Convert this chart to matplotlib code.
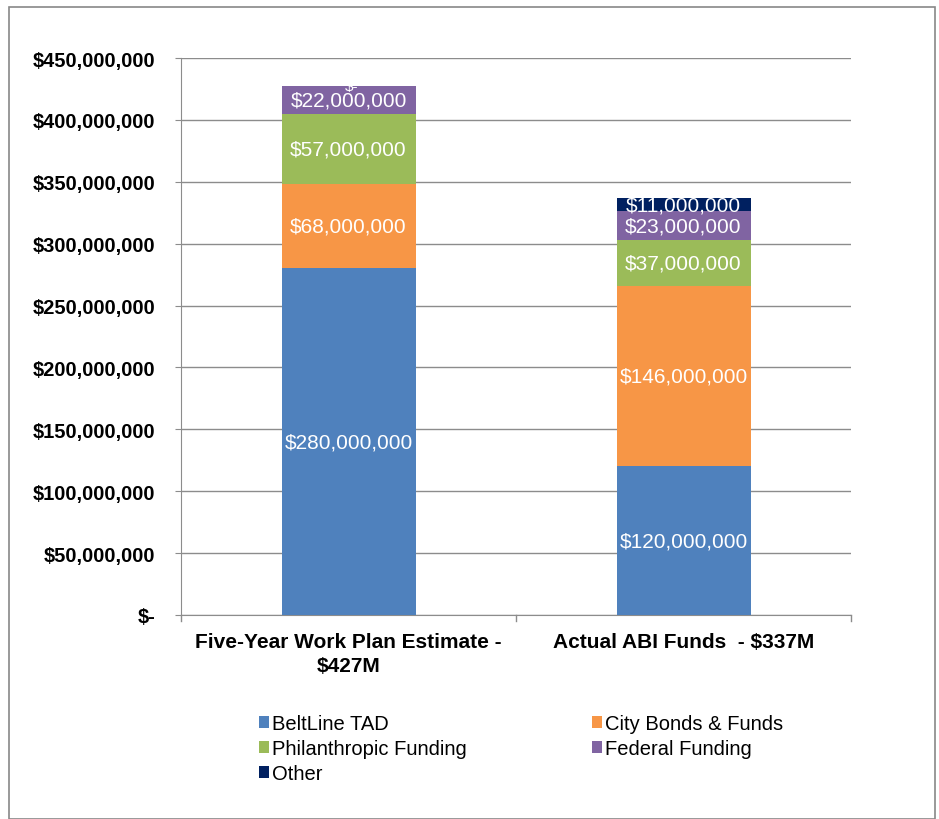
import numpy as np
import matplotlib.pyplot as plt
from matplotlib.patches import Rectangle
from matplotlib.ticker import FuncFormatter

plt.rcParams['font.family'] = ['Liberation Sans', 'DejaVu Sans']

categories = ["Five-Year Work Plan Estimate -\n$427M", "Actual ABI Funds  - $337M"]
series = ["BeltLine TAD", "City Bonds & Funds", "Philanthropic Funding", "Federal Funding", "Other"]
beltline_tad = [280000000, 120000000]
city_bonds = [68000000, 146000000]
philanthropic = [57000000, 37000000]
federal = [22000000, 23000000]
other = [0, 11000000]
colors = ["#4F81BD", "#F79646", "#9BBB59", "#8064A2", "#002060"]

fig = plt.figure(figsize=(9.39, 8.20), dpi=100)
# outer chart border
fig.patches.append(Rectangle((9 / 939, 0), 926 / 939, 1 - 8 / 820, transform=fig.transFigure,
                             fill=False, edgecolor="#888888", linewidth=1.2))

ax = fig.add_axes([181 / 939, 1 - 616 / 820, 670 / 939, 557 / 820])

x = np.arange(len(categories))
bottom = np.zeros(len(categories))
handles = []
for name, vals, c in zip(series, [beltline_tad, city_bonds, philanthropic, federal, other], colors):
    vals = np.array(vals, dtype=float)
    b = ax.bar(x, vals, 0.4, bottom=bottom, color=c, label=name, zorder=3)
    handles.append(b)
    for xi, v, bt in zip(x, vals, bottom):
        if v == 0:
            # zero-value label sits on top of the stack, as in the original
            ax.text(xi + 0.01, bt, "$-", ha="center", va="center", color="white",
                    fontsize=11, zorder=4)
        else:
            ax.text(xi, bt + v / 2, f"${v:,.0f}", ha="center", va="center", color="white",
                    fontsize=15, zorder=4)
    bottom += vals

ax.set_xlim(-0.5, 1.5)
ax.set_ylim(0, 450000000)
ax.set_yticks(np.arange(0, 450000001, 50000000))
ax.yaxis.set_major_formatter(FuncFormatter(lambda v, p: "$-" if v == 0 else f"${v:,.0f}"))
ax.grid(axis="y", color="#8c8c8c", linewidth=1, zorder=0)
for s in ["top", "right"]:
    ax.spines[s].set_visible(False)
for s in ["left", "bottom"]:
    ax.spines[s].set_color("#8c8c8c")
ax.tick_params(axis="y", length=4.3, color="#8c8c8c", labelsize=14.5, pad=14)
for t in ax.get_yticklabels():
    t.set_fontweight("bold")
ax.set_xticks(x)
ax.set_xticklabels(categories, fontsize=15, fontweight="bold", va="top", linespacing=1.35)
ax.tick_params(axis="x", length=0, pad=12)
# category separator ticks
for xs in [-0.5, 0.5, 1.5]:
    ax.plot([xs, xs], [0, -6 / 557 * 450000000], color="#8c8c8c", linewidth=1,
            clip_on=False, zorder=2)

order = [0, 2, 4, 1, 3]
fig.legend(handles=[handles[i] for i in order], labels=[series[i] for i in order],
           ncol=2, loc="upper left",
           bbox_to_anchor=(251 / 939, 1 - 707 / 820), frameon=False, fontsize=14.5,
           handlelength=0.5, handleheight=0.5, handletextpad=0.15, columnspacing=6.2,
           labelspacing=0.3, borderaxespad=0)

fig.savefig("out.png", dpi=100)
